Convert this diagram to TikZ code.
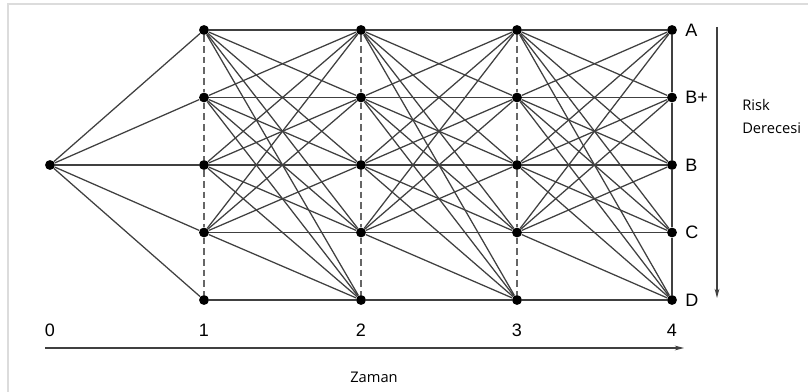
\documentclass[tikz,border=0pt]{standalone}
\usepackage{fontspec}
\setmainfont{Liberation Sans}
\newfontfamily\notefont{Open Sans}
\usepackage{tikz}
\usepackage{xcolor}
\usetikzlibrary{arrows.meta, positioning}
\definecolor{LinkGrey}{HTML}{404040}
\definecolor{FrameGrey}{HTML}{DCDCDC}

\begin{document}
\begin{tikzpicture}[x=0.75pt, y=-0.75pt, dot/.style={circle, fill=black, inner sep=0pt, minimum size=7.4pt}, link/.style={draw=LinkGrey, line width=0.95pt}, tag/.style={inner sep=0pt, font=\fontsize{13.5}{15}\selectfont}, note/.style={inner sep=0pt, align=left, font=\notefont\fontsize{11}{17.25}\selectfont}, axis/.style={draw=LinkGrey, line width=1pt, -{Stealth[length=7pt, width=3.6pt]}}]

        \useasboundingbox (0,0) rectangle (808,392);
        \clip (0,0) rectangle (808,392);
        \draw[FrameGrey, line width=1.5pt] (8,4.5) rectangle (900,500);

        % states: column = time step, row = rating
        \node[dot] (n0) at (50,165) {};
        \foreach \c/\x in {1/204, 2/361, 3/517, 4/672}
            \foreach \r/\y in {1/30, 2/97.5, 3/165, 4/232.5, 5/300}
                \node[dot] (n\c-\r) at (\x,\y) {};

        % transitions
        \foreach \j in {1,...,5}
            \draw[link] (n0) -- (n1-\j);
        \foreach \c in {1,2,3} {
            \pgfmathtruncatemacro{\nxt}{\c+1}
            \foreach \i in {1,...,4}
                \foreach \j in {1,...,5}
                    \draw[link] (n\c-\i) -- (n\nxt-\j);
            \draw[link] (n\c-5) -- (n\nxt-5);
        }

        % column rails
        \foreach \c in {1,2,3}
            \foreach \i in {1,...,4} {
                \pgfmathtruncatemacro{\dn}{\i+1}
                \draw[LinkGrey!80, line width=0.9pt, dash pattern=on 5pt off 3pt] (n\c-\i) -- (n\c-\dn);
            }
        \foreach \i in {1,...,4} {
            \pgfmathtruncatemacro{\dn}{\i+1}
            \draw[link] (n4-\i) -- (n4-\dn);
        }

        % ratings
        \node[tag, right=6pt of n4-1] (lA) {A};
        \node[tag, right=6pt of n4-2] (lBp) {B+};
        \node[tag, right=6pt of n4-3] (lB) {B};
        \node[tag, right=6pt of n4-4] (lC) {C};
        \node[tag, right=6pt of n4-5] (lD) {D};

        % time steps
        \node[tag] (t0) at (50,330) {0};
        \node[tag] (t1) at (204,330) {1};
        \node[tag] (t2) at (361,330) {2};
        \node[tag] (t3) at (517,330) {3};
        \node[tag] (t4) at (672,330) {4};

        % axes
        \coordinate (tStart) at (45,348);
        \coordinate (tEnd) at (684,348);
        \draw[axis] (tStart) -- (tEnd);
        \node[note] (zaman) at (374,377) {Zaman};

        \coordinate (rTop) at (717,27);
        \coordinate (rEnd) at (717,298);
        \draw[axis] (rTop) -- (rEnd);
        \node[note, anchor=west] (risk) at (742,116.5) {Risk\\Derecesi};

    \end{tikzpicture}
\end{document}
